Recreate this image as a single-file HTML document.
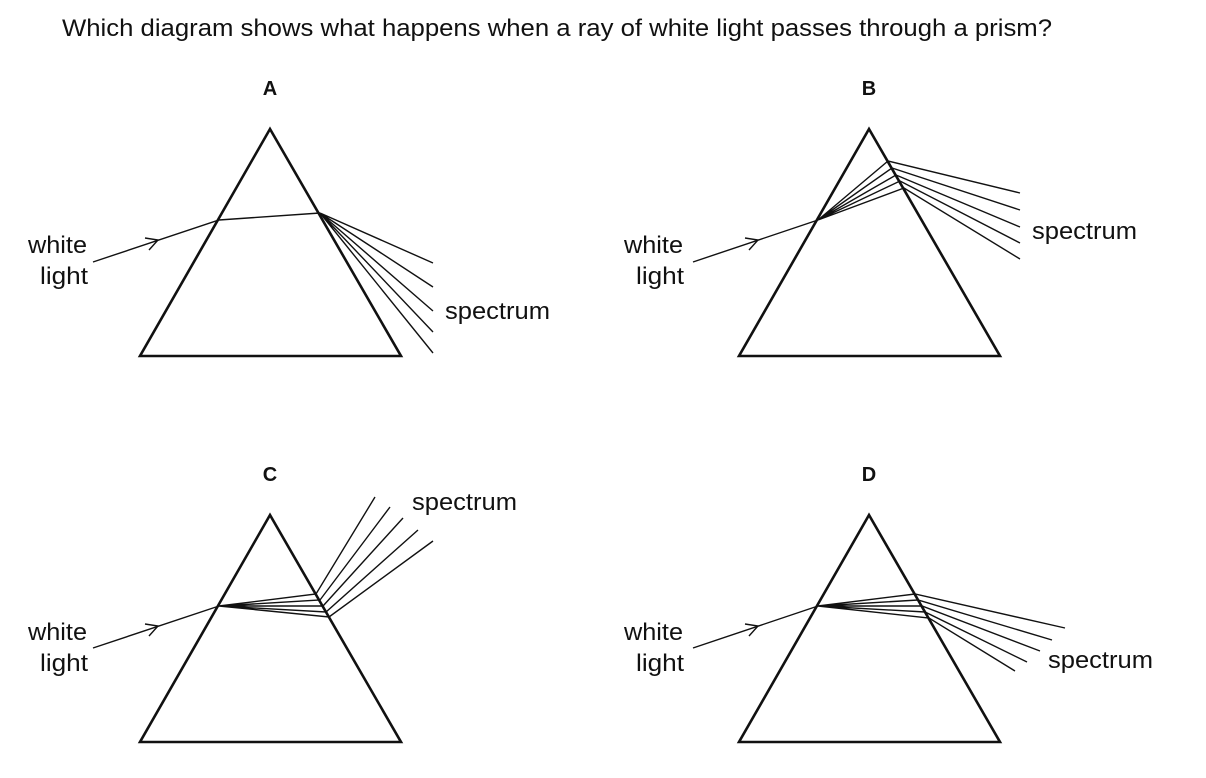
<!DOCTYPE html>
<html><head><meta charset="utf-8"><style>
html,body{margin:0;padding:0;background:#fff;width:1206px;height:778px;overflow:hidden}
svg{display:block}
text{font-family:"Liberation Sans",Arial,sans-serif;fill:#111}
</style></head><body>
<svg width="1206" height="778" viewBox="0 0 1206 778" xmlns="http://www.w3.org/2000/svg">
<text x="62" y="36" font-size="24" textLength="990" lengthAdjust="spacingAndGlyphs">Which diagram shows what happens when a ray of white light passes through a prism?</text>
<g font-weight="bold" font-size="20" text-anchor="middle">
<text x="270" y="95">A</text><text x="869" y="95">B</text>
<text x="270" y="481">C</text><text x="869" y="481">D</text>
</g>
<g font-size="24">
<text x="28" y="253" textLength="59" lengthAdjust="spacingAndGlyphs">white</text><text x="40" y="284" textLength="48" lengthAdjust="spacingAndGlyphs">light</text>
<text x="624" y="253" textLength="59" lengthAdjust="spacingAndGlyphs">white</text><text x="636" y="284" textLength="48" lengthAdjust="spacingAndGlyphs">light</text>
<text x="28" y="640" textLength="59" lengthAdjust="spacingAndGlyphs">white</text><text x="40" y="671" textLength="48" lengthAdjust="spacingAndGlyphs">light</text>
<text x="624" y="640" textLength="59" lengthAdjust="spacingAndGlyphs">white</text><text x="636" y="671" textLength="48" lengthAdjust="spacingAndGlyphs">light</text>
<text x="445" y="319" textLength="105" lengthAdjust="spacingAndGlyphs">spectrum</text>
<text x="1032" y="239" textLength="105" lengthAdjust="spacingAndGlyphs">spectrum</text>
<text x="412" y="510" textLength="105" lengthAdjust="spacingAndGlyphs">spectrum</text>
<text x="1048" y="668" textLength="105" lengthAdjust="spacingAndGlyphs">spectrum</text>
</g>
<g fill="none" stroke="#111" stroke-width="2.6" stroke-linejoin="miter">
<polygon points="270,129 140,356 401,356"/>
<polygon points="869,129 739,356 1000,356"/>
<polygon points="270,515 140,742 401,742"/>
<polygon points="869,515 739,742 1000,742"/>
</g>
<g fill="none" stroke="#111" stroke-width="1.4">
<path d="M93,262 L219,220 L320,213"/>
<path d="M145,238 L158,240 L149,250"/>
<path d="M320,213 L433,263 M320,213 L433,287 M320,213 L433,311 M320,213 L433,332 M320,213 L433,353"/>
<path d="M693,262 L818,220"/>
<path d="M745,238 L758,240 L749,250"/>
<path d="M818,220 L888,161 L1020,193 M818,220 L892,168 L1020,210 M818,220 L896,175 L1020,227 M818,220 L900,181 L1020,243 M818,220 L904,188 L1020,259"/>
<path d="M93,648 L219,606"/>
<path d="M145,624 L158,626 L149,636"/>
<path d="M219,606 L316,594 L375,497 M219,606 L320,600 L390,507 M219,606 L323,606 L403,518 M219,606 L326,612 L418,530 M219,606 L329,617 L433,541"/>
<path d="M693,648 L818,606"/>
<path d="M745,624 L758,626 L749,636"/>
<path d="M818,606 L915,594 L1065,628 M818,606 L918,600 L1052,640 M818,606 L922,606 L1040,651 M818,606 L925,612 L1027,662 M818,606 L929,618 L1015,671"/>
</g>
</svg>
</body></html>
